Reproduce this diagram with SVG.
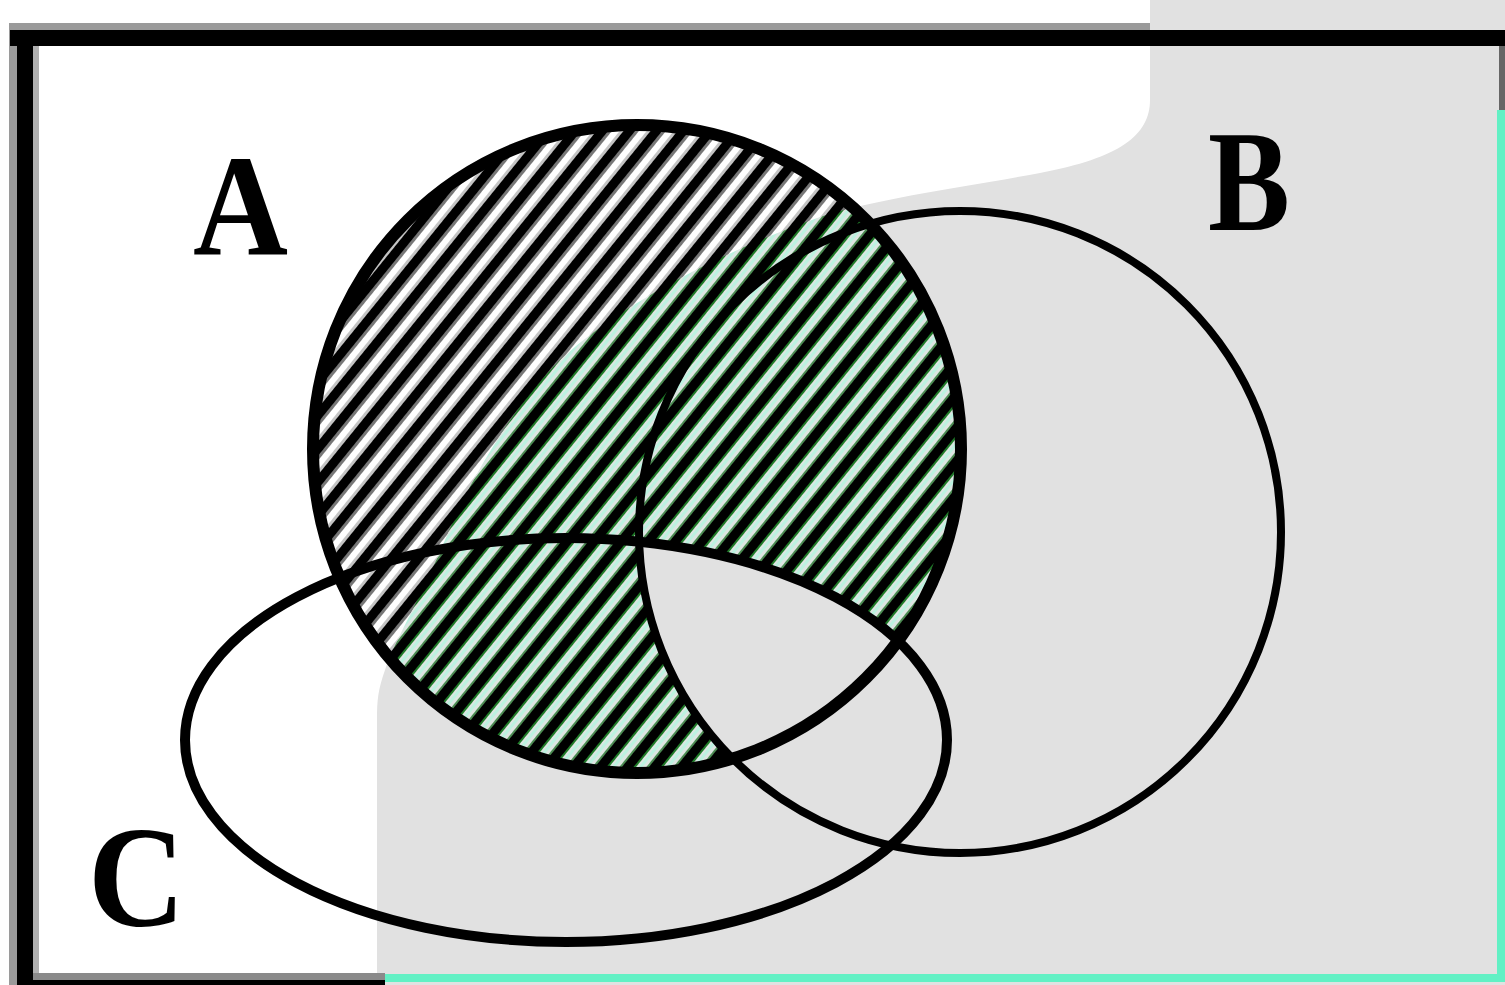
<svg xmlns="http://www.w3.org/2000/svg" width="1505" height="985" viewBox="0 0 1505 985">
<defs>
<style>
.outline{fill:none;stroke:#000}
.lbl{font-family:"Liberation Serif","Times New Roman",serif;font-weight:bold;font-size:145px;fill:#000}
.shade{fill:#e1e1e1}
</style>
<pattern id="hatchW" patternUnits="userSpaceOnUse" width="21" height="21" patternTransform="rotate(39)">
<rect width="21" height="21" fill="#fff"/>
<rect x="0" y="0" width="9" height="21" fill="#000"/>
<rect x="9" y="0" width="3" height="21" fill="#777"/>
<rect x="18" y="0" width="3" height="21" fill="#c4c4c4"/>
</pattern>
<pattern id="hatchG" patternUnits="userSpaceOnUse" width="21" height="21" patternTransform="rotate(39)">
<rect width="21" height="21" fill="#dde6e2"/>
<rect x="0" y="0" width="9" height="21" fill="#000"/>
<rect x="9" y="0" width="2" height="21" fill="#1f7a28"/>
<rect x="13" y="0" width="3" height="21" fill="#bdf2e0"/>
<rect x="19" y="0" width="2" height="21" fill="#4c8a52"/>
</pattern>
<clipPath id="clipGray"><path d="M1150,0 L1150,100 C1150,135 1120,158 1040,173 C960,188 880,198 820,217 C720,252 620,305 560,360 C510,410 470,480 445,540 C420,600 395,640 385,670 C378,690 377,700 377,720 L377,985 L1505,985 L1505,0 Z"/></clipPath>
<clipPath id="clipA"><circle cx="637" cy="449" r="324"/></clipPath>
<clipPath id="clipB"><circle cx="960" cy="532" r="321"/></clipPath>
</defs>

<g id="background">
<rect x="0" y="0" width="1505" height="985" fill="#fff"/>
<path class="shade" d="M1150,0 L1150,100 C1150,135 1120,158 1040,173 C960,188 880,198 820,217 C720,252 620,305 560,360 C510,410 470,480 445,540 C420,600 395,640 385,670 C378,690 377,700 377,720 L377,985 L1505,985 L1505,0 Z"/>
</g>

<g id="universe">
<rect x="10" y="23" width="1140" height="7" fill="#9a9a9a"/>
<rect x="9" y="23" width="8" height="962" fill="#9a9a9a"/>
<rect x="10" y="30" width="1495" height="16" fill="#000"/>
<rect x="17" y="30" width="16" height="955" fill="#000"/>
<rect x="33" y="46" width="6" height="928" fill="#b0b0b0"/>
<rect x="33" y="973" width="352" height="7" fill="#8a8a8a"/>
<rect x="17" y="980" width="368" height="5" fill="#000"/>
<rect x="385" y="974" width="1120" height="8" fill="#62f0c4"/>
<rect x="1499" y="46" width="6" height="64" fill="#666"/>
<rect x="1497" y="110" width="8" height="872" fill="#62f0c4"/>
</g>

<g id="set-A">
<circle cx="637" cy="449" r="324" fill="url(#hatchW)"/>
<g clip-path="url(#clipGray)">
<circle cx="637" cy="449" r="324" fill="url(#hatchG)"/>
</g>
<g clip-path="url(#clipB)">
<ellipse class="shade" cx="566" cy="740" rx="381" ry="202" clip-path="url(#clipA)"/>
</g>
<circle class="outline" cx="637" cy="449" r="324" stroke-width="12"/>
<text class="lbl" x="193" y="255" textLength="95" lengthAdjust="spacingAndGlyphs">A</text>
</g>

<g id="set-B">
<circle class="outline" cx="960" cy="532" r="321" stroke-width="8"/>
<text class="lbl" x="1208" y="230" textLength="82" lengthAdjust="spacingAndGlyphs">B</text>
</g>

<g id="set-C">
<ellipse class="outline" cx="566" cy="740" rx="381" ry="202" stroke-width="10"/>
<text class="lbl" x="88" y="926" textLength="97" lengthAdjust="spacingAndGlyphs">C</text>
</g>

<g id="connectors"></g>
</svg>
